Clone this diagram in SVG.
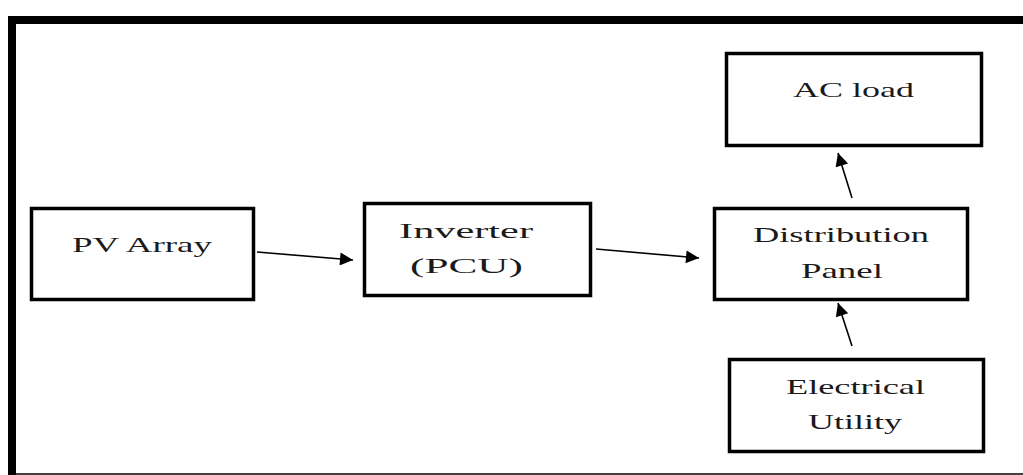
<svg xmlns="http://www.w3.org/2000/svg" width="1023" height="475" viewBox="0 0 1023 475">
<style>
.box{fill:#fff;stroke:#000;stroke-width:3.5}
.t{font-family:"Liberation Serif","Times New Roman",serif;font-size:22px;fill:#1a1a1a}
.c{stroke:#000;stroke-width:1.6;fill:none;marker-end:url(#ah)}
</style>
<defs>
<marker id="ah" viewBox="0 0 10 10" refX="10" refY="5" markerUnits="userSpaceOnUse" markerWidth="18" markerHeight="13" orient="auto">
<path d="M0,0 L10,5 L0,10 Z" fill="#000"/>
</marker>
</defs>
<rect width="1023" height="475" fill="#fff"/>
<g id="frame">
<path d="M12,475 V20 H1030" fill="none" stroke="#000" stroke-width="8"/>
<line x1="16" y1="474" x2="1023" y2="474" stroke="#000" stroke-width="1.5"/>
</g>
<g id="pv-array">
<rect class="box" x="31.5" y="208.5" width="222" height="91"/>
<text class="t" transform="scale(1.6,1)" x="45" y="252" textLength="87.5" lengthAdjust="spacingAndGlyphs">PV Array</text>
</g>
<g id="inverter">
<rect class="box" x="364.5" y="203.5" width="226" height="92"/>
<text class="t" transform="scale(1.6,1)" x="249.4" y="238" textLength="83.75" lengthAdjust="spacingAndGlyphs">Inverter</text>
<text class="t" transform="scale(1.6,1)" x="256.25" y="273" textLength="70.6" lengthAdjust="spacingAndGlyphs">(PCU)</text>
</g>
<g id="distribution-panel">
<rect class="box" x="714.5" y="208.5" width="253" height="91"/>
<text class="t" transform="scale(1.6,1)" x="470.6" y="242" textLength="110" lengthAdjust="spacingAndGlyphs">Distribution</text>
<text class="t" transform="scale(1.6,1)" x="500.6" y="278" textLength="51.25" lengthAdjust="spacingAndGlyphs">Panel</text>
</g>
<g id="ac-load">
<rect class="box" x="726.5" y="53.5" width="255" height="92"/>
<text class="t" transform="scale(1.6,1)" x="495.6" y="97" textLength="75.6" lengthAdjust="spacingAndGlyphs">AC load</text>
</g>
<g id="electrical-utility">
<rect class="box" x="729.5" y="359.5" width="254" height="92"/>
<text class="t" transform="scale(1.6,1)" x="491.25" y="394" textLength="86.9" lengthAdjust="spacingAndGlyphs">Electrical</text>
<text class="t" transform="scale(1.6,1)" x="505" y="429" textLength="58.75" lengthAdjust="spacingAndGlyphs">Utility</text>
</g>
<g id="connectors">
<line class="c" x1="257" y1="252" x2="353" y2="260"/>
<line class="c" x1="596" y1="249" x2="699" y2="258"/>
<line class="c" x1="852" y1="198" x2="838" y2="153"/>
<line class="c" x1="852" y1="346" x2="838" y2="303"/>
</g>
</svg>
